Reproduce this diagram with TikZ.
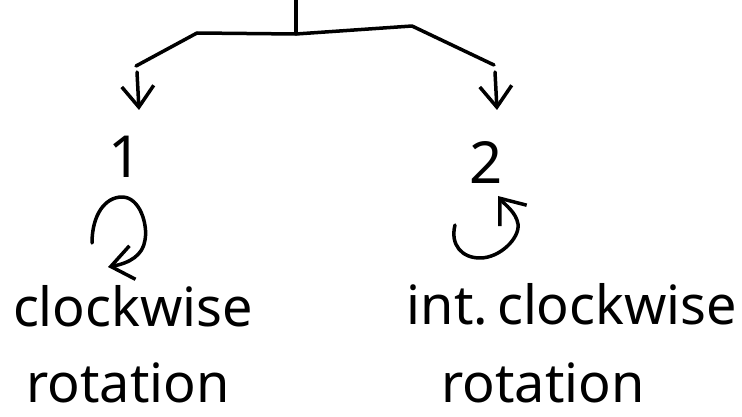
\documentclass[tikz,border=0pt]{standalone}
\usepackage{fontspec}
\setmainfont{Noto Sans}
\usetikzlibrary{arrows.meta}
\tikzset{
  pen/.style={line width=3.5pt, line cap=round, line join=round, black},
  barb/.style={-{Straight Barb[length=21pt,width=32pt,line width=3.5pt]}},
  turnbarb/.style={-{Straight Barb[length=22pt,width=34pt,line width=3.5pt]}},
  label/.style={anchor=base, inner sep=0pt, font=\fontsize{54}{54}\selectfont},
  digit/.style={anchor=base, inner sep=0pt, font=\fontsize{58}{58}\selectfont}
}
\begin{document}
\begin{tikzpicture}[x=1pt,y=-1pt]
  \fill[white] (0,0) rectangle (742,417);
  \useasboundingbox (0,0) rectangle (742,417);

  % branching stem
  \coordinate (top) at (296,0);
  \coordinate (fork) at (296,34);
  \coordinate (lk) at (197,33);
  \coordinate (rk) at (412,26);
  \coordinate (le) at (136,66);
  \coordinate (re) at (494,65);
  \draw[pen] (top) -- (fork);
  \draw[pen] (le) -- (lk) -- (fork) -- (rk) -- (re);

  % the two cases
  \node[digit] (one) at (125,178) {1};
  \node[digit] (two) at (486,184) {2};
  \coordinate (la) at (137,72);
  \coordinate (lt) at (139,110);
  \coordinate (ra) at (495,72);
  \coordinate (rt) at (497,110);
  \draw[pen,barb] (la) -- (lt);
  \draw[pen,barb] (ra) -- (rt);

  % rotation symbols
  \draw[pen,turnbarb] (92,243) .. controls (92,215) and (105,197) .. (122,197)
        .. controls (140,197) and (148,225) .. (145,240)
        .. controls (143,255) and (130,263) .. (108,267);
  \draw[pen,turnbarb] (455,225) .. controls (450,245) and (462,258) .. (480,258)
        .. controls (500,258) and (520,238) .. (518,224)
        .. controls (516,212) and (505,205) .. (498,196);

  % captions
  \node[label] (cw) at (133,326) {clockwise};
  \node[label] (cwr) at (128,402) {rotation};
  \node[label] (acw) at (572,324) {int.\,clockwise};
  \node[label] (acwr) at (543,402) {rotation};
\end{tikzpicture}
\end{document}
